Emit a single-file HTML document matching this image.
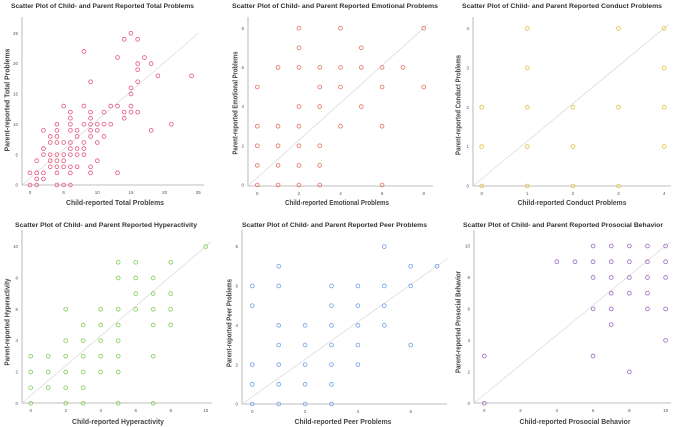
<!DOCTYPE html>
<html><head><meta charset="utf-8">
<style>
html,body{margin:0;padding:0;background:#fff;}
svg{display:block;font-family:"Liberation Sans",sans-serif;}
</style></head>
<body>
<svg id="chart" width="676" height="427" viewBox="0 0 676 427" xmlns="http://www.w3.org/2000/svg"></svg>
<script>
const totalPoints = [[0,2],[0,0],[1,2],[1,1],[1,0],[1,4],[2,2],[2,1],[2,5],[2,6],[2,9],[3,3],[3,4],[3,5],[3,7],[3,8],[4,0],[4,2],[4,3],[4,4],[4,5],[4,7],[4,8],[4,9],[4,10],[5,0],[5,3],[5,4],[5,5],[5,7],[5,13],[6,0],[6,2],[6,3],[6,5],[6,6],[6,7],[6,9],[6,10],[6,11],[6,12],[7,3],[7,5],[7,6],[7,8],[7,9],[8,5],[8,6],[8,7],[8,10],[8,13],[8,22],[9,2],[9,3],[9,8],[9,9],[9,10],[9,11],[9,12],[9,17],[10,4],[10,7],[10,9],[10,10],[11,8],[11,10],[11,12],[12,10],[12,13],[13,2],[13,13],[13,21],[14,11],[14,12],[14,24],[15,12],[15,13],[15,15],[15,16],[15,25],[16,12],[16,17],[16,19],[16,20],[16,24],[17,21],[18,9],[18,20],[19,18],[21,10],[24,18]];
const emotionalPoints = [[0,0],[0,1],[0,2],[0,3],[0,5],[1,0],[1,1],[1,2],[1,3],[1,6],[2,0],[2,1],[2,2],[2,3],[2,4],[2,6],[2,7],[2,8],[3,0],[3,1],[3,2],[3,4],[3,5],[3,6],[4,3],[4,5],[4,6],[4,8],[5,4],[5,6],[5,7],[6,0],[6,3],[6,5],[6,6],[7,6],[8,5],[8,8]];
const conductPoints = [[0,0],[0,1],[0,2],[1,0],[1,1],[1,2],[1,3],[1,4],[2,0],[2,1],[2,2],[3,0],[3,2],[3,4],[4,1],[4,2],[4,3],[4,4]];
const hyperPoints = [[0,0],[0,1],[0,2],[0,3],[1,1],[1,2],[1,3],[2,0],[2,1],[2,2],[2,3],[2,4],[2,6],[3,0],[3,1],[3,2],[3,3],[3,4],[3,5],[4,2],[4,3],[4,4],[4,5],[4,6],[5,0],[5,2],[5,3],[5,4],[5,5],[5,6],[5,8],[5,9],[6,6],[6,7],[6,8],[6,9],[7,0],[7,3],[7,5],[7,6],[7,7],[7,8],[8,5],[8,6],[8,7],[8,9],[10,10]];
const peerPoints = [[0,0],[0,1],[0,2],[0,5],[0,6],[1,0],[1,1],[1,2],[1,3],[1,4],[1,6],[1,7],[2,0],[2,1],[2,2],[2,3],[2,4],[3,0],[3,1],[3,2],[3,3],[3,4],[3,5],[3,6],[4,2],[4,3],[4,4],[4,5],[4,6],[5,4],[5,5],[5,6],[5,8],[6,3],[6,6],[6,7],[7,7]];
const prosocialPoints = [[0,0],[0,3],[4,9],[5,9],[6,3],[6,6],[6,8],[6,9],[6,10],[7,5],[7,6],[7,7],[7,8],[7,9],[7,10],[8,2],[8,7],[8,8],[8,9],[8,10],[9,6],[9,7],[9,8],[9,9],[9,10],[10,4],[10,6],[10,8],[10,9],[10,10]];
const totalTicks = [0,5,10,15,20,25];
const emotionalTicks = [0,2,4,6,8];
const conductTicks = [0,1,2,3,4];
const hyperTicks = [0,2,4,6,8,10];
const peerXTicks = [0,2,4,6];
const peerYTicks = [0,2,4,6,8];
const prosocialTicks = [0,2,4,6,8,10];
const titles = ["Scatter Plot of Child- and Parent Reported Total Problems","Scatter Plot of Child- and Parent Reported Emotional Problems","Scatter Plot of Child- and Parent Reported Conduct Problems","Scatter Plot of Child- and Parent Reported Hyperactivity","Scatter Plot of Child- and Parent Reported Peer Problems","Scatter Plot of Child- and Parent Reported Prosocial Behavior"];
const xTitles = ["Child-reported Total Problems","Child-reported Emotional Problems","Child-reported Conduct Problems","Child-reported Hyperactivity","Child-reported Peer Problems","Child-reported Prosocial Behavior"];
const yTitles = ["Parent-reported Total Problems","Parent-reported Emotional Problems","Parent-reported Conduct Problems","Parent-reported Hyperactivity","Parent-reported Peer Problems","Parent-reported Prosocial Behavior"];

const NS="http://www.w3.org/2000/svg";
const svg=document.getElementById('chart');
function mk(tag,attrs,parent){const e=document.createElementNS(NS,tag);for(const k in attrs)e.setAttribute(k,attrs[k]);(parent||svg).appendChild(e);return e;}

const panels=[
 {key:'total',pts:totalPoints,xt:totalTicks,yt:totalTicks,color:'#e5577f',axX:22,axY:185,right:204,top:17,x0:30,xk:6.73,y0:185,yk:6.07,L:25,tx:11,ty:8,tl:183,xtc:115,xty:205,xtl:98,ytx:7,ytc:100,ytl:103},
 {key:'emotional',pts:emotionalPoints,xt:emotionalTicks,yt:emotionalTicks,color:'#e6735e',axX:248,axY:186,right:433,top:17,x0:257.3,xk:20.8,y0:185,yk:19.6,L:8.2,tx:232,ty:8,tl:206,xtc:337,xty:205,xtl:104,ytx:235,ytc:103,ytl:103},
 {key:'conduct',pts:conductPoints,xt:conductTicks,yt:conductTicks,color:'#e3c23a',axX:473,axY:186,right:671,top:17,x0:481.7,xk:45.6,y0:186,yk:39.4,L:4.1,tx:462,ty:8,tl:200,xtc:572,xty:205,xtl:109,ytx:458,ytc:105,ytl:100},
 {key:'hyperactivity',pts:hyperPoints,xt:hyperTicks,yt:hyperTicks,color:'#7fcf55',axX:22,axY:403,right:212,top:230,x0:30.7,xk:17.5,y0:403.3,yk:15.67,L:10.3,tx:15,ty:227,tl:182,xtc:118,xty:424,xtl:92,ytx:7,ytc:322,ytl:87},
 {key:'peer',pts:peerPoints,xt:peerXTicks,yt:peerYTicks,color:'#6fa2e6',axX:242,axY:404,right:447,top:230,x0:252.3,xk:26.4,y0:404,yk:19.67,L:7.4,tx:242,ty:227,tl:185,xtc:343,xty:424,xtl:97,ytx:229,ytc:323,ytl:88},
 {key:'prosocial',pts:prosocialPoints,xt:prosocialTicks,yt:prosocialTicks,color:'#9a6cc4',axX:474,axY:403,right:671,top:230,x0:484.3,xk:18.13,y0:403.3,yk:15.73,L:10.3,tx:463,ty:227,tl:200,xtc:575,xty:424,xtl:111,ytx:458,ytc:322,ytl:102}
];

panels.forEach((p,i)=>{
  const g=mk('g',{});
  
  
  const xs=v=>p.x0+v*p.xk, ys=v=>p.y0-v*p.yk;
  const t=mk('text',{x:p.tx,y:p.ty,'font-size':6.3,'font-weight':'bold',fill:'#333',textLength:p.tl,lengthAdjust:'spacingAndGlyphs'},g);
  t.textContent=titles[i];
  
  
  const ax=mk('path',{d:`M${p.axX},${p.top}V${p.axY}H${p.right}`,stroke:'#aaa','stroke-width':0.8,fill:'none'},g);
  
  
  p.xt.forEach(v=>{
    const tk=mk('text',{x:xs(v),y:p.axY+9,'font-size':4.5,fill:'#555','text-anchor':'middle'},g);
    tk.textContent=v;
    
    
  });
  p.yt.forEach(v=>{
    const tk=mk('text',{x:p.axX-4,y:ys(v)+1.6,'font-size':4.5,fill:'#555','text-anchor':'end'},g);
    tk.textContent=v;
    
    
  });
  const ln=mk('line',{x1:p.axX,y1:p.axY,x2:xs(p.L),y2:ys(p.L),stroke:'#ddd','stroke-width':0.8},g);
  
  
  p.pts.forEach(d=>{
    const c=mk('circle',{cx:xs(d[0]),cy:ys(d[1]),r:1.9,fill:'none',stroke:p.color,'stroke-width':0.8},g);
    
    
  });
  const xt=mk('text',{x:p.xtc,y:p.xty,'font-size':7,'font-weight':'bold',fill:'#444','text-anchor':'middle',textLength:p.xtl,lengthAdjust:'spacingAndGlyphs'},g);
  xt.textContent=xTitles[i];
  
  
  const yt=mk('text',{x:0,y:0,'font-size':7,'font-weight':'bold',fill:'#444','text-anchor':'middle',textLength:p.ytl,lengthAdjust:'spacingAndGlyphs',transform:`translate(${p.ytx+2.5},${p.ytc}) rotate(-90)`},g);
  yt.textContent=yTitles[i];
  
  
});
</script>
</body></html>
